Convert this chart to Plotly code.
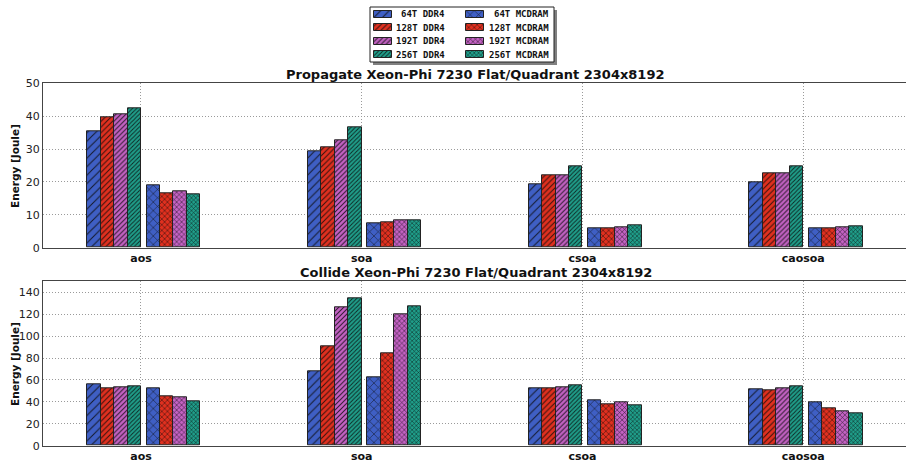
import plotly.graph_objects as go

categories = ["aos", "soa", "csoa", "caosoa"]
threads = ["64T", "128T", "192T", "256T"]

prop_ddr4 = {
    "64T": [35.3, 29.2, 19.4, 19.8],
    "128T": [39.6, 30.6, 21.9, 22.5],
    "192T": [40.5, 32.7, 22.1, 22.5],
    "256T": [42.4, 36.5, 24.7, 24.7],
}
prop_mcdram = {
    "64T": [19.0, 7.5, 5.8, 5.8],
    "128T": [16.5, 7.8, 6.0, 6.0],
    "192T": [17.3, 8.4, 6.2, 6.1],
    "256T": [16.1, 8.4, 6.7, 6.4],
}
coll_ddr4 = {
    "64T": [56.3, 67.5, 52.6, 51.5],
    "128T": [52.0, 90.3, 52.6, 50.8],
    "192T": [53.5, 126.5, 53.3, 52.0],
    "256T": [54.5, 134.8, 55.1, 53.8],
}
coll_mcdram = {
    "64T": [52.0, 62.0, 41.7, 39.2],
    "128T": [44.7, 84.6, 38.0, 33.8],
    "192T": [44.4, 119.5, 39.6, 31.7],
    "256T": [40.8, 126.8, 36.5, 29.2],
}

titles = ["Propagate Xeon-Phi 7230 Flat/Quadrant 2304x8192",
          "Collide Xeon-Phi 7230 Flat/Quadrant 2304x8192"]
memories = ["DDR4", "MCDRAM"]

colors = ["#3F5FC4", "#E0301F", "#C462C4", "#1F9E8A"]
sizes = [6, 4, 3.5, 3]
solid = [0.18, 0.26, 0.3, 0.32]
shapes_ = {"DDR4": "/", "MCDRAM": "x"}

W, H = 906, 462
L = 43
bar_w = 0.061
gap = 0.025

fig = go.Figure()


def marker_for(j, mem):
    return dict(color=colors[j], line=dict(color="#222222", width=1),
                pattern=dict(shape=shapes_[mem], size=sizes[j], solidity=solid[j],
                             fgcolor="rgba(10,10,10,0.8)", bgcolor=colors[j],
                             fillmode="replace"))


def add_panel(ddr4, mcdram, xa, ya):
    for j, t in enumerate(threads):
        xs = [i - (4 - j - 0.5) * bar_w for i in range(len(categories))]
        fig.add_trace(go.Bar(x=xs, y=ddr4[t], width=bar_w, xaxis=xa, yaxis=ya,
                             name=t + " DDR4", showlegend=False,
                             marker=marker_for(j, "DDR4")))
    for j, t in enumerate(threads):
        xs = [i + gap + (j + 0.5) * bar_w for i in range(len(categories))]
        fig.add_trace(go.Bar(x=xs, y=mcdram[t], width=bar_w, xaxis=xa, yaxis=ya,
                             name=t + " MCDRAM", showlegend=False,
                             marker=marker_for(j, "MCDRAM")))


add_panel(prop_ddr4, prop_mcdram, "x", "y")
add_panel(coll_ddr4, coll_mcdram, "x2", "y2")


def py(px):
    return 1 - px / H


def pxx(px):
    return (px - L) / (W - L)


# ---- custom legend drawn in a small pixel-scaled subplot ----
lg_x0, lg_x1, lg_y0, lg_y1 = 364, 562, 2, 68
row0, row_step = 14.0, 13.6
sw_left = [374, 466]
sw_w, sw_h = 18, 7
txt_right = [447, 551]
for c, mem in enumerate(memories):
    for j, t in enumerate(threads):
        fig.add_trace(go.Bar(
            y=[row0 + j * row_step], x=[sw_w], base=[sw_left[c]], width=sw_h,
            orientation="h", xaxis="x3", yaxis="y3", showlegend=False,
            hoverinfo="skip", marker=marker_for(j, mem)))
        fig.add_annotation(text=t + " " + mem, xref="x3", yref="y3",
                           x=txt_right[c], y=row0 + j * row_step,
                           xanchor="right", yanchor="middle", showarrow=False,
                           font=dict(family="DejaVu Sans Mono", size=9,
                                     color="#111111", weight="bold"))

fig.add_shape(type="rect", xref="x3", yref="y3", x0=373, x1=557, y0=10, y1=65,
              fillcolor="#808080", line=dict(width=0), layer="below")
fig.add_shape(type="rect", xref="x3", yref="y3", x0=370, x1=554, y0=7, y1=62,
              fillcolor="white", line=dict(color="#222222", width=1), layer="below")

xr = [(43.3 - 141.7) / 221.7, (910 - 141.7) / 221.7]
grid = dict(showgrid=True, griddash="1px,2px", gridcolor="#9a9a9a", gridwidth=1)
xcommon = dict(range=xr, tickvals=list(range(len(categories))), ticktext=categories,
               tickfont=dict(family="DejaVu Sans", size=11, color="#111111", weight="bold"),
               showline=True, linecolor="#444444", linewidth=1, mirror=True,
               ticks="", zeroline=False, domain=[0, 1], **grid)
ycommon = dict(showline=True, linecolor="#444444", linewidth=1, ticks="",
               tickfont=dict(family="DejaVu Sans", size=11, color="#222222"),
               zeroline=False, **grid)

fig.update_layout(
    width=W, height=H,
    margin=dict(l=L, r=0, t=0, b=0, autoexpand=False),
    plot_bgcolor="white", paper_bgcolor="white",
    barmode="overlay", bargap=0, showlegend=False,
    xaxis=dict(**xcommon, anchor="y"),
    yaxis=dict(**ycommon, range=[0, 50], dtick=10,
               domain=[py(247.7), py(83.3)], anchor="x"),
    xaxis2=dict(**xcommon, anchor="y2"),
    yaxis2=dict(**ycommon, range=[0, 150], dtick=20,
                domain=[py(445.7), py(281.3)], anchor="x2"),
    xaxis3=dict(domain=[pxx(lg_x0), pxx(lg_x1)], range=[lg_x0, lg_x1], visible=False,
                anchor="y3", fixedrange=True),
    yaxis3=dict(domain=[py(lg_y1), py(lg_y0)], range=[lg_y1, lg_y0], visible=False,
                anchor="x3", fixedrange=True),
    font=dict(family="DejaVu Sans"),
)

for t, ypx in zip(titles, [74, 272]):
    fig.add_annotation(text="<b>" + t + "</b>", xref="paper", yref="paper",
                       x=pxx(476), y=py(ypx), xanchor="center", yanchor="middle",
                       showarrow=False,
                       font=dict(family="DejaVu Sans", size=13, color="#111111"))

for ypx in [166, 364]:
    fig.add_annotation(text="<b>Energy [Joule]</b>", xref="paper", yref="paper",
                       x=pxx(15), y=py(ypx), xanchor="center", yanchor="middle",
                       textangle=-90, showarrow=False,
                       font=dict(family="DejaVu Sans", size=10.5, color="#111111"))

fig.write_html("out.html", config={"displayModeBar": False},
               post_script="document.body.style.margin='0px';document.body.style.overflow='hidden';")
